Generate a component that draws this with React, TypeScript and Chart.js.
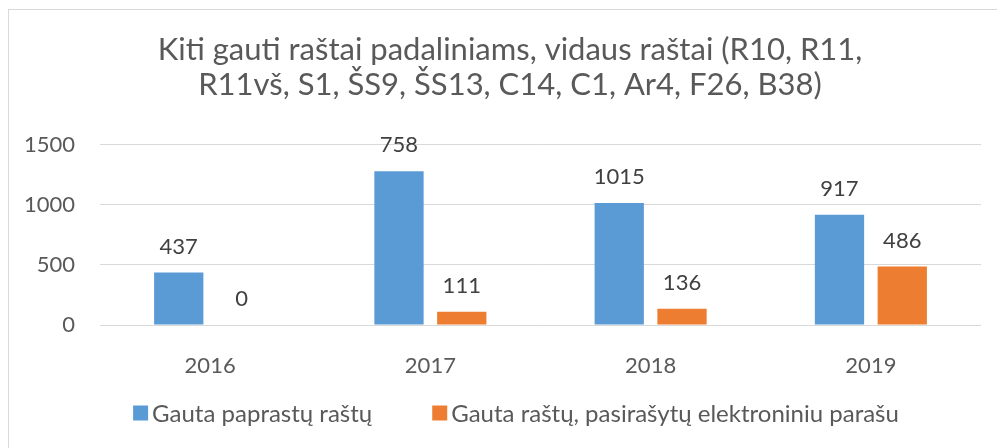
import React, { useEffect, useRef } from "react";
import { Chart, registerables } from "chart.js";

Chart.register(...registerables);

const categories = ["2016", "2017", "2018", "2019"];
const seriesNames = ["Gauta paprastų raštų", "Gauta raštų, pasirašytų elektroniniu parašu"];
const plainValues = [437, 1278, 1015, 917];
const eSignedValues = [0, 111, 136, 486];
const plainLabels = ["437", "758", "1015", "917"];
const eSignedLabels = ["0", "111", "136", "486"];
const titleLines = ["Kiti gauti raštai padaliniams, vidaus raštai (R10, R11,", "R11vš, S1, ŠS9, ŠS13, C14, C1, Ar4, F26, B38)"];
const yTicks = [0, 500, 1000, 1500];

const colors = ["#5B9BD5", "#ED7D31"];
const FONT = "Lato";

const dataLabelPlugin = {
  id: "dataLabels",
  afterDatasetsDraw(chart: any) {
    const ctx = chart.ctx;
    const labelSets = [plainLabels, eSignedLabels];
    ctx.save();
    ctx.font = `22px ${FONT}`;
    ctx.fillStyle = "#404040";
    ctx.textAlign = "center";
    ctx.textBaseline = "middle";
    chart.data.datasets.forEach((_: any, di: number) => {
      const meta = chart.getDatasetMeta(di);
      meta.data.forEach((bar: any, i: number) => {
        ctx.fillText(labelSets[di][i], bar.x, bar.y - 26);
      });
    });
    ctx.restore();
  },
};

const legendPlugin = {
  id: "customLegend",
  afterDraw(chart: any) {
    const ctx = chart.ctx;
    ctx.save();
    ctx.font = `24px ${FONT}`;
    const box = 15;
    const gapText = 4;
    const gapItem = 60;
    const widths = seriesNames.map((n) => ctx.measureText(n).width);
    const total = widths.reduce((a, w) => a + box + gapText + w, 0) + gapItem * (seriesNames.length - 1);
    const cy = 413;
    let x = 516 - total / 2;
    seriesNames.forEach((n, i) => {
      ctx.fillStyle = colors[i];
      ctx.fillRect(x, cy - box / 2, box, box);
      x += box + gapText;
      ctx.fillStyle = "#595959";
      ctx.textAlign = "left";
      ctx.textBaseline = "middle";
      ctx.fillText(n, x, cy + 1);
      x += widths[i] + gapItem;
    });
    ctx.restore();
  },
};

export default function App() {
  const ref = useRef<HTMLCanvasElement>(null);
  useEffect(() => {
    if (!ref.current) return;
    const chart = new Chart(ref.current, {
      type: "bar",
      data: {
        labels: categories,
        datasets: [
          { label: seriesNames[0], data: plainValues, backgroundColor: colors[0], barPercentage: 0.785, categoryPercentage: 0.57 },
          { label: seriesNames[1], data: eSignedValues, backgroundColor: colors[1], barPercentage: 0.785, categoryPercentage: 0.57 },
        ],
      },
      options: {
        animation: false,
        responsive: false,
        layout: { padding: { left: 0, right: 0, top: 0, bottom: 63 } },
        plugins: {
          legend: { display: false },
          tooltip: { enabled: false },
          title: {
            display: true,
            text: titleLines,
            color: "#595959",
            font: { family: FONT, size: 31, weight: "normal", lineHeight: 1.14 },
            padding: { top: 32, bottom: 42 },
          },
        },
        scales: {
          x: {
            grid: { display: false },
            border: { display: false },
            ticks: { color: "#595959", font: { family: FONT, size: 22 }, padding: 20 },
            afterFit: (s: any) => { s.height = 60; },
          },
          y: {
            min: 0,
            max: 1500,
            afterBuildTicks: (s: any) => { s.ticks = yTicks.map((v) => ({ value: v })); },
            grid: { color: "#d9d9d9", lineWidth: 1, drawTicks: false },
            border: { display: false },
            ticks: { color: "#595959", font: { family: FONT, size: 22 }, padding: 25, callback: (v: any) => String(v) },
            afterFit: (s: any) => { s.width = 100; },
          },
          y2: {
            position: "right",
            display: true,
            grid: { display: false },
            border: { display: false },
            ticks: { display: false },
            afterFit: (s: any) => { s.width = 39; },
          },
        },
      },
      plugins: [dataLabelPlugin, legendPlugin],
    });
    return () => chart.destroy();
  }, []);
  return (
    <div style={{ position: "fixed", left: 0, top: 0, width: 997, height: 448, overflow: "hidden", background: "#fff" }}>
      <canvas ref={ref} width={1020} height={448} style={{ position: "absolute", left: 0, top: 0 }} />
      <div style={{ position: "absolute", left: 8, top: 9, width: 2000, height: 2000, borderLeft: "1px solid #d9d9d9", borderTop: "1px solid #d9d9d9", pointerEvents: "none" }} />
    </div>
  );
}
